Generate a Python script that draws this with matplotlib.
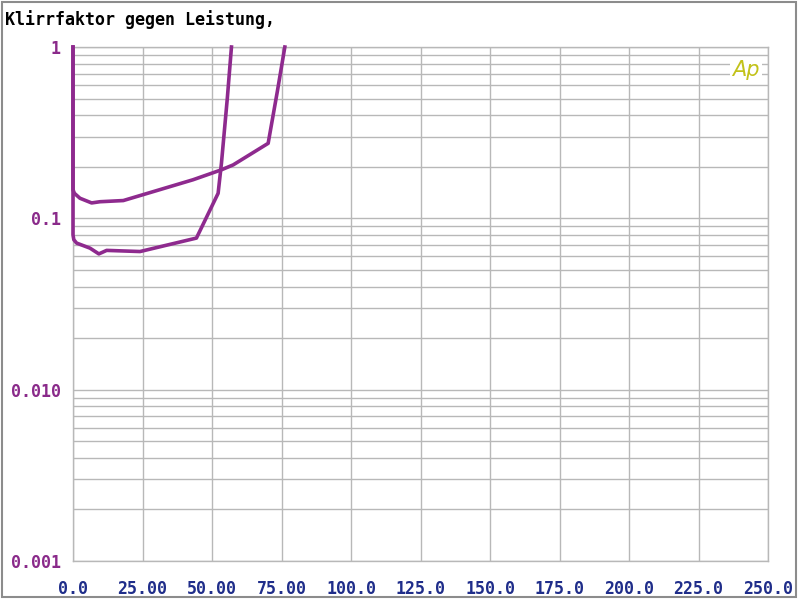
import matplotlib
matplotlib.use('Agg')
import numpy as np
import matplotlib.pyplot as plt
from matplotlib.patches import Rectangle

# %% Data
# curve 1: rises early (~57 W)
p1 = [0.0, 0.0, 0.3, 1.3, 6.1, 9.3, 12.1, 24.1, 44.4, 52.2, 53.4, 55.5, 57.0]
thd1 = [1.0, 0.080, 0.075, 0.0717, 0.067, 0.062, 0.065, 0.064, 0.0767, 0.140, 0.21, 0.50, 1.0]
# curve 2: rises later (~76 W)
p2 = [0.0, 0.0, 0.5, 2.5, 6.7, 9.7, 18.1, 43.2, 53.4, 57.6, 70.2, 73.5, 76.2]
thd2 = [1.0, 0.147, 0.140, 0.131, 0.123, 0.125, 0.127, 0.168, 0.192, 0.205, 0.274, 0.55, 1.0]

x_ticks = [0, 25, 50, 75, 100, 125, 150, 175, 200, 225, 250]
x_labels = ['0.0', '25.00', '50.00', '75.00', '100.0', '125.0', '150.0', '175.0', '200.0', '225.0', '250.0']
y_ticks = [1, 0.1, 0.01, 0.001]
y_labels = ['1', '0.1', '0.010', '0.001']

title = 'Klirrfaktor gegen Leistung,'

# %% Styles
curve_col = '#8e2a8e'
grid_col = '#b8b8b8'
xlab_col = '#1f2d8a'
ylab_col = '#8a2a8a'
mono = 'DejaVu Sans Mono'

fig = plt.figure(figsize=(8.0, 5.99), dpi=100)
ax = fig.add_axes([73 / 800, 1 - 561 / 599, (768 - 73) / 800, (561 - 47) / 599])

ax.plot(p1, thd1, color=curve_col, lw=2.6, solid_joinstyle='round', clip_on=False, zorder=4)
ax.plot(p2, thd2, color=curve_col, lw=2.6, solid_joinstyle='round', clip_on=False, zorder=4)

ax.set_yscale('log')
ax.set_xlim(0, 250)
ax.set_ylim(0.001, 1)
ax.set_xticks(x_ticks)
ax.set_xticklabels(x_labels, family=mono, fontsize=12, fontweight='bold', color=xlab_col)
ax.set_yticks(y_ticks)
ax.set_yticklabels(y_labels, family=mono, fontsize=12, fontweight='bold', color=ylab_col)
ax.tick_params(axis='both', which='both', length=0)
ax.tick_params(axis='x', pad=14)
ax.tick_params(axis='y', pad=9)

ax.grid(True, which='major', axis='x', color=grid_col, lw=1)
ax.grid(True, which='both', axis='y', color=grid_col, lw=1)
ax.set_axisbelow(True)
for s in ax.spines.values():
    s.set_color(grid_col)
    s.set_linewidth(1)

# Ap logo
ax.text(0.988, 0.955, 'Ap', transform=ax.transAxes, ha='right', va='center',
        fontsize=15, style='italic', color='#c2c21a', zorder=5,
        bbox=dict(facecolor='white', edgecolor='none', pad=1.5))

fig.text(5 / 800, 1 - 20 / 599, title, family=mono, fontsize=12, fontweight='bold',
         color='black', ha='left', va='center')

# outer frame
fig.patches.append(Rectangle((0.002, 0.004), 0.993, 0.992, transform=fig.transFigure,
                             fill=False, edgecolor='#8c8c8c', lw=1.5))

fig.savefig('out.png', dpi=100)
